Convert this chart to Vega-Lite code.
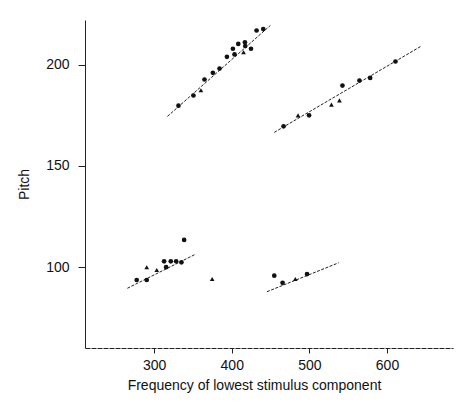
{
  "$schema": "https://vega.github.io/schema/vega-lite/v6.json",
  "width": 368,
  "height": 328,
  "autosize": {"type": "none"},
  "padding": {"left": 85, "top": 20, "right": 3, "bottom": 65},
  "background": "white",
  "config": {
    "view": {"stroke": null},
    "font": "Liberation Sans",
    "axis": {
      "grid": false,
      "domainColor": "#222",
      "tickColor": "#222",
      "labelColor": "#111",
      "titleColor": "#111",
      "labelFont": "Liberation Sans",
      "titleFont": "Liberation Sans",
      "labelFontSize": 14,
      "titleFontSize": 14,
      "titleFontWeight": "normal"
    }
  },
  "datasets": {
    "pts": [
      {"f": 331.4, "p": 179.7, "s": "circle"},
      {"f": 350.7, "p": 184.7, "s": "circle"},
      {"f": 360.3, "p": 187.3, "s": "triangle"},
      {"f": 364.9, "p": 192.6, "s": "circle"},
      {"f": 375.7, "p": 195.9, "s": "circle"},
      {"f": 384.3, "p": 198.0, "s": "circle"},
      {"f": 393.8, "p": 203.8, "s": "circle"},
      {"f": 401.5, "p": 207.8, "s": "circle"},
      {"f": 403.6, "p": 205.0, "s": "circle"},
      {"f": 408.4, "p": 210.2, "s": "circle"},
      {"f": 417.0, "p": 211.0, "s": "circle"},
      {"f": 417.4, "p": 209.1, "s": "circle"},
      {"f": 415.2, "p": 206.1, "s": "triangle"},
      {"f": 424.8, "p": 207.8, "s": "circle"},
      {"f": 432.0, "p": 216.8, "s": "circle"},
      {"f": 440.6, "p": 217.5, "s": "circle"},
      {"f": 466.8, "p": 169.5, "s": "circle"},
      {"f": 485.4, "p": 174.9, "s": "triangle"},
      {"f": 499.6, "p": 174.9, "s": "circle"},
      {"f": 528.4, "p": 180.2, "s": "triangle"},
      {"f": 538.7, "p": 182.3, "s": "triangle"},
      {"f": 542.6, "p": 189.6, "s": "circle"},
      {"f": 564.5, "p": 192.1, "s": "circle"},
      {"f": 578.3, "p": 193.4, "s": "circle"},
      {"f": 610.9, "p": 201.5, "s": "circle"},
      {"f": 277.6, "p": 93.6, "s": "circle"},
      {"f": 290.5, "p": 93.6, "s": "circle"},
      {"f": 290.5, "p": 99.9, "s": "triangle"},
      {"f": 303.4, "p": 98.5, "s": "triangle"},
      {"f": 312.9, "p": 102.8, "s": "circle"},
      {"f": 315.5, "p": 99.9, "s": "circle"},
      {"f": 321.5, "p": 102.8, "s": "circle"},
      {"f": 328.4, "p": 102.8, "s": "circle"},
      {"f": 335.2, "p": 102.3, "s": "circle"},
      {"f": 338.7, "p": 113.4, "s": "circle"},
      {"f": 374.8, "p": 94.1, "s": "triangle"},
      {"f": 454.8, "p": 95.7, "s": "circle"},
      {"f": 465.5, "p": 92.2, "s": "circle"},
      {"f": 481.9, "p": 94.1, "s": "triangle"},
      {"f": 497.0, "p": 96.5, "s": "circle"}
    ],
    "fits": [
      {"g": "a", "f": 317.2, "p": 174.4},
      {"g": "a", "f": 449.7, "p": 219.3},
      {"g": "b", "f": 454.8, "p": 166.5},
      {"g": "b", "f": 644.1, "p": 209.1},
      {"g": "c", "f": 265.6, "p": 89.5},
      {"g": "c", "f": 353.8, "p": 106.4},
      {"g": "d", "f": 445.4, "p": 87.8},
      {"g": "d", "f": 537.8, "p": 102.1}
    ]
  },
  "layer": [
    {
      "data": {"name": "fits"},
      "mark": {"type": "line", "color": "#222", "strokeWidth": 1, "strokeDash": [3, 1.5]},
      "encoding": {
        "x": {
          "field": "f", "type": "quantitative",
          "scale": {"domain": [211, 685], "nice": false, "zero": false},
          "axis": {
            "values": [300, 400, 500, 600],
            "title": "Frequency of lowest stimulus component",
            "tickSize": 5,
            "labelPadding": 5,
            "titlePadding": 6,
            "titleX": 169,
            "titleAnchor": null,
            "domainDash": [5, 1]
          }
        },
        "y": {
          "field": "p", "type": "quantitative",
          "scale": {"domain": [60, 222], "nice": false, "zero": false},
          "axis": {
            "values": [100, 150, 200],
            "title": "Pitch",
            "tickSize": 7,
            "labelPadding": 9,
            "titlePadding": 14
          }
        },
        "detail": {"field": "g"}
      }
    },
    {
      "data": {"name": "pts"},
      "mark": {"type": "point", "filled": true, "color": "#111", "opacity": 1, "size": 22},
      "encoding": {
        "x": {"field": "f", "type": "quantitative"},
        "y": {"field": "p", "type": "quantitative"},
        "shape": {
          "field": "s", "type": "nominal",
          "scale": {"domain": ["circle", "triangle"], "range": ["circle", "triangle-up"]},
          "legend": null
        }
      }
    }
  ]
}
